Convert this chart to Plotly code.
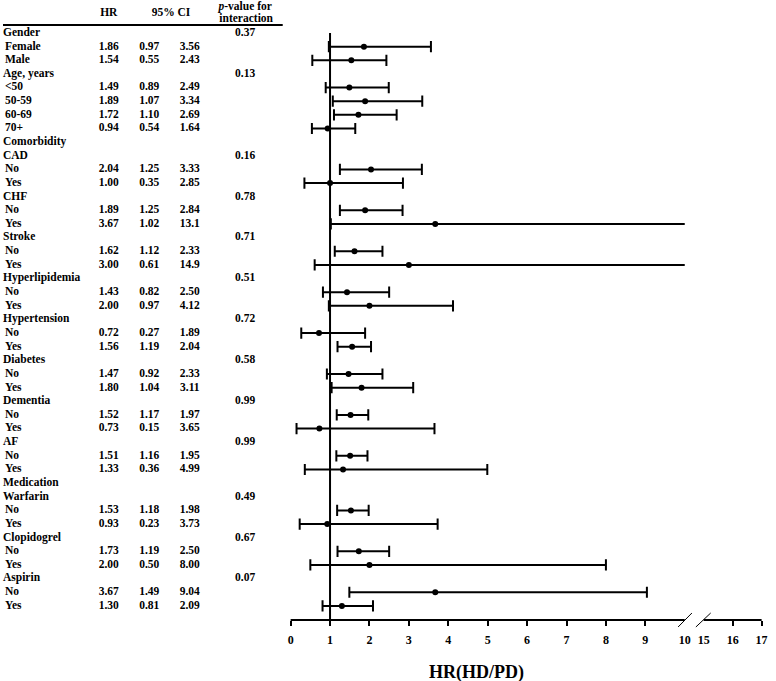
import plotly.graph_objects as go

# ---------------- data ----------------
labels = ["Gender", "Female", "Male", "Age, years", "<50", "50-59", "60-69", "70+",
          "Comorbidity", "CAD", "No", "Yes", "CHF", "No", "Yes", "Stroke", "No", "Yes",
          "Hyperlipidemia", "No", "Yes", "Hypertension", "No", "Yes", "Diabetes", "No", "Yes",
          "Dementia", "No", "Yes", "AF", "No", "Yes", "Medication", "Warfarin", "No", "Yes",
          "Clopidogrel", "No", "Yes", "Aspirin", "No", "Yes"]
subrow = [0, 1, 1, 0, 1, 1, 1, 1,
          0, 0, 1, 1, 0, 1, 1, 0, 1, 1,
          0, 1, 1, 0, 1, 1, 0, 1, 1,
          0, 1, 1, 0, 1, 1, 0, 0, 1, 1,
          0, 1, 1, 0, 1, 1]
hr = [None, 1.86, 1.54, None, 1.49, 1.89, 1.72, 0.94,
      None, None, 2.04, 1.00, None, 1.89, 3.67, None, 1.62, 3.00,
      None, 1.43, 2.00, None, 0.72, 1.56, None, 1.47, 1.80,
      None, 1.52, 0.73, None, 1.51, 1.33, None, None, 1.53, 0.93,
      None, 1.73, 2.00, None, 3.67, 1.30]
ci_low = [None, 0.97, 0.55, None, 0.89, 1.07, 1.10, 0.54,
          None, None, 1.25, 0.35, None, 1.25, 1.02, None, 1.12, 0.61,
          None, 0.82, 0.97, None, 0.27, 1.19, None, 0.92, 1.04,
          None, 1.17, 0.15, None, 1.16, 0.36, None, None, 1.18, 0.23,
          None, 1.19, 0.50, None, 1.49, 0.81]
ci_high = [None, 3.56, 2.43, None, 2.49, 3.34, 2.69, 1.64,
           None, None, 3.33, 2.85, None, 2.84, 13.1, None, 2.33, 14.9,
           None, 2.50, 4.12, None, 1.89, 2.04, None, 2.33, 3.11,
           None, 1.97, 3.65, None, 1.95, 4.99, None, None, 1.98, 3.73,
           None, 2.50, 8.00, None, 9.04, 2.09]
p_interaction = [0.37, None, None, 0.13, None, None, None, None,
                 None, 0.16, None, None, 0.78, None, None, 0.71, None, None,
                 0.51, None, None, 0.72, None, None, 0.58, None, None,
                 0.99, None, None, 0.99, None, None, None, 0.49, None, None,
                 0.67, None, None, 0.07, None, None]
tick_values = [0, 1, 2, 3, 4, 5, 6, 7, 8, 9, 16, 17]
break_tick_values = [10, 15]

# ---------------- layout constants ----------------
W, H = 776, 681
MB = 61
PLOT_H = H - MB
ROW0, ROWSTEP = 33, 13.64
FONT = "Liberation Serif"
BREAK_LO, BREAK_HI = 10, 15
SEG2_START, SEG2_SCALE = 10.48, 0.735


def pos(v):
    """Broken-axis transform."""
    if v <= BREAK_LO:
        return v
    return SEG2_START + (v - BREAK_HI) * SEG2_SCALE


def row_of_px(y):
    return (y - ROW0) / ROWSTEP


XMAX = pos(17)
D0, D1 = 291 / W, 767.5 / W


def xpaper(p):
    return D0 + p / XMAX * (D1 - D0)


def ypaper(ypx):
    return 1 - ypx / PLOT_H


def fmt(v):
    return f"{v:.2f}" if v < 10 else f"{v:.1f}"


rows = list(range(len(labels)))
fig = go.Figure()

# ---------------- table (xaxis2, pixel units) ----------------
tf = dict(family=FONT, size=11.5, color="black", weight="bold")
lab_x = [2 if s else 0 for s in subrow]
fig.add_trace(go.Scatter(x=lab_x, y=rows, mode="text", text=labels,
                         textposition="middle right", textfont=tf, cliponaxis=False,
                         xaxis="x2", yaxis="y", hoverinfo="skip", showlegend=False))
idx = [i for i in rows if hr[i] is not None]
for col_x, arr in [(107, hr), (148, ci_low), (189, ci_high)]:
    fig.add_trace(go.Scatter(x=[col_x] * len(idx), y=idx, mode="text",
                             text=[fmt(arr[i]) for i in idx],
                             textposition="middle center", textfont=tf,
                             xaxis="x2", yaxis="y", hoverinfo="skip", showlegend=False))
pidx = [i for i in rows if p_interaction[i] is not None]
fig.add_trace(go.Scatter(x=[245] * len(pidx), y=pidx, mode="text",
                         text=[f"{p_interaction[i]:.2f}" for i in pidx],
                         textposition="middle center", textfont=tf,
                         xaxis="x2", yaxis="y", hoverinfo="skip", showlegend=False))
# headers
hf = dict(family=FONT, size=11.5, color="black", weight="bold")
fig.add_trace(go.Scatter(x=[107, 170, 245, 246],
                         y=[row_of_px(13), row_of_px(13), row_of_px(7.5), row_of_px(19.5)],
                         mode="text",
                         text=["HR", "95% CI", "<i>p</i>-value for", "interaction"],
                         textposition="middle center", textfont=hf, cliponaxis=False,
                         xaxis="x2", yaxis="y", hoverinfo="skip", showlegend=False))

# ---------------- forest plot ----------------
lx, ly, capx, capy = [], [], [], []
for i in idx:
    lo, hi = ci_low[i], ci_high[i]
    in_gap = BREAK_LO < hi < BREAK_HI
    hi_p = pos(BREAK_LO) if in_gap else pos(hi)
    lx += [pos(lo), hi_p, None]
    ly += [i, i, None]
    capx.append(pos(lo)); capy.append(i)
    if not in_gap:
        capx.append(pos(hi)); capy.append(i)

fig.add_trace(go.Scatter(x=lx, y=ly, mode="lines", line=dict(color="black", width=2),
                         hoverinfo="skip", showlegend=False))
fig.add_trace(go.Scatter(x=capx, y=capy, mode="markers",
                         marker=dict(symbol="line-ns", size=8,
                                     line=dict(color="black", width=2)),
                         hoverinfo="skip", showlegend=False))
fig.add_trace(go.Scatter(x=[pos(hr[i]) for i in idx], y=idx, mode="markers",
                         marker=dict(symbol="circle", size=6, color="black"),
                         showlegend=False))

shapes = []
# header underline
shapes.append(dict(type="line", xref="x2", yref="y", x0=0, x1=283,
                   y0=row_of_px(25), y1=row_of_px(25), line=dict(color="black", width=2)))
# reference line at HR = 1
shapes.append(dict(type="line", xref="x", yref="y", x0=pos(1), x1=pos(1),
                   y0=0, y1=row_of_px(PLOT_H), line=dict(color="black", width=2)))
# broken axis line
shapes.append(dict(type="line", xref="paper", yref="paper", x0=xpaper(0), x1=xpaper(pos(10)),
                   y0=0, y1=0, line=dict(color="black", width=2)))
shapes.append(dict(type="line", xref="paper", yref="paper", x0=xpaper(pos(15)), x1=xpaper(XMAX),
                   y0=0, y1=0, line=dict(color="black", width=2)))
# break slashes
for a, b in [(683, 697), (701, 716)]:
    shapes.append(dict(type="line", xref="paper", yref="paper", x0=a / W, x1=b / W,
                       y0=ypaper(627), y1=ypaper(613), line=dict(color="black", width=1)))

tickfont = dict(family=FONT, size=12, color="black", weight="bold")
fig.update_layout(
    width=W, height=H,
    margin=dict(l=0, r=0, t=0, b=MB),
    paper_bgcolor="white", plot_bgcolor="white",
    shapes=shapes,
    xaxis=dict(domain=[D0, D1], range=[0, XMAX], showgrid=False, zeroline=False,
               showline=False, ticks="outside", ticklen=5, tickwidth=2, tickcolor="black",
               tickvals=[pos(v) for v in tick_values],
               ticktext=[str(v) for v in tick_values],
               tickfont=tickfont, ticklabelstandoff=4, fixedrange=True),
    xaxis3=dict(overlaying="x", matches="x", side="bottom", showgrid=False, zeroline=False,
                showline=False, ticks="outside", ticklen=5, tickwidth=2,
                tickcolor="rgba(0,0,0,0)",
                tickvals=[pos(v) for v in break_tick_values],
                ticktext=[str(v) for v in break_tick_values],
                tickfont=tickfont, ticklabelstandoff=4, fixedrange=True),
    xaxis2=dict(domain=[0, 290 / W], range=[0, 290], visible=False, fixedrange=True),
    yaxis=dict(range=[row_of_px(PLOT_H), row_of_px(0)], visible=False, fixedrange=True),
    annotations=[dict(text="HR(HD/PD)", xref="paper", yref="paper",
                      x=479 / W, y=ypaper(672), xanchor="center", yanchor="middle",
                      showarrow=False,
                      font=dict(family=FONT, size=18, color="black", weight="bold"))],
)
# invisible anchor trace so xaxis3 is drawn
fig.add_trace(go.Scatter(x=[None], y=[None], xaxis="x3", yaxis="y", showlegend=False,
                         hoverinfo="skip"))

fig.write_html("out.html", config={"displayModeBar": False},
               post_script="document.body.style.margin='0';")
